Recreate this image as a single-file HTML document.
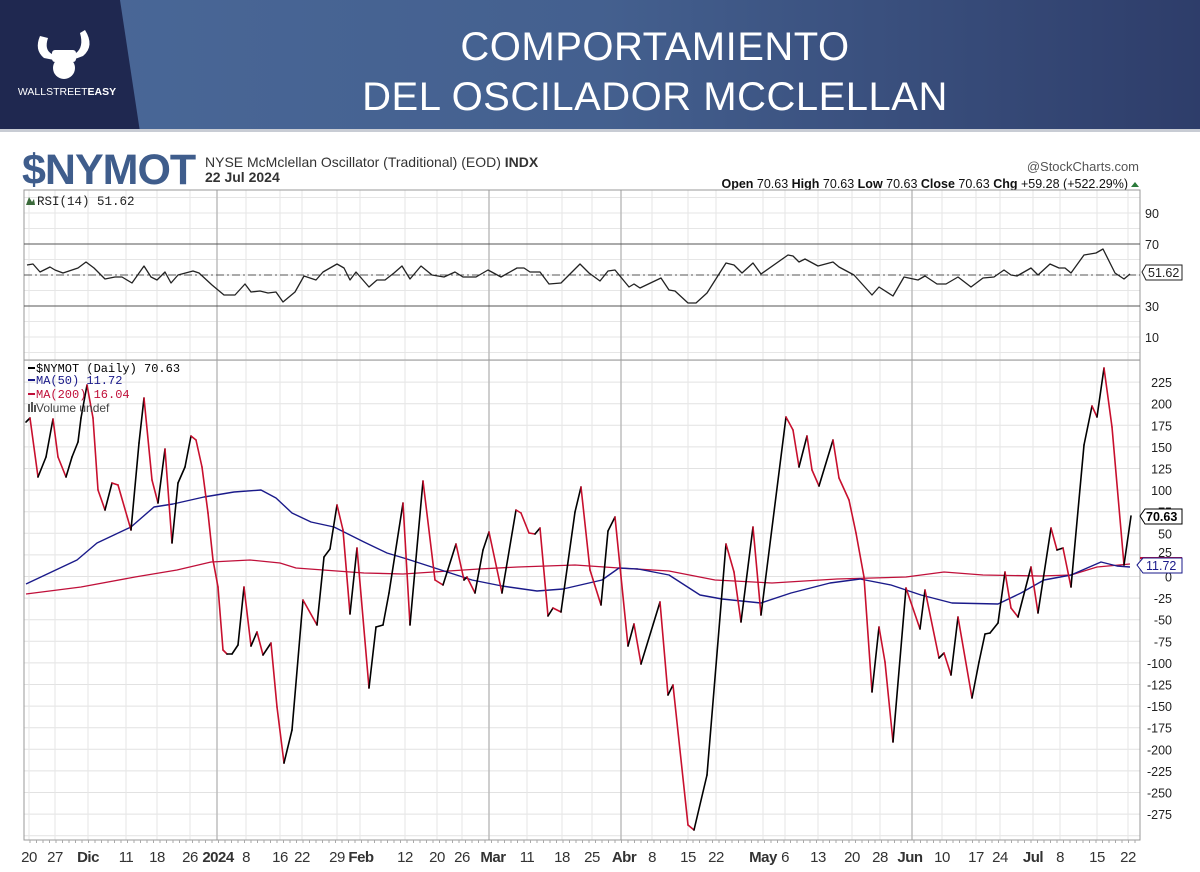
<!DOCTYPE html>
<html><head><meta charset="utf-8">
<style>
html,body{margin:0;padding:0;background:#fff;}
body{width:1200px;height:872px;overflow:hidden;position:relative;font-family:"Liberation Sans",sans-serif;}
#banner{position:absolute;left:0;top:0;width:1200px;height:132px;background:linear-gradient(90deg,#4a6898 0%,#44608f 50%,#2e3d6a 100%);}
#title{position:absolute;left:300px;width:710px;top:22px;text-align:center;color:#fff;font-size:40px;line-height:50px;letter-spacing:0.5px;}
</style></head><body>
<div id="banner">
<svg width="1200" height="132" style="position:absolute;left:0;top:0">
<polygon points="0,0 120,0 140,132 0,132" fill="#1f2850"/>
<rect x="0" y="129" width="1200" height="3" fill="#c8ccd4"/>
<g fill="#fff">
<path d="M40,36 q-6,14 4,22 l10,2 l-2,-6 q-8,-4 -4,-16z"/>
<path d="M85,30 q10,16 -2,26 l-8,3 l1,-6 q8,-6 4,-20z"/>
<rect x="52" y="50" width="24" height="12" rx="3"/>
<circle cx="64" cy="68" r="11"/>
</g>
<text x="67" y="95" fill="#fff" font-size="10.5" text-anchor="middle" font-family="Liberation Sans">WALLSTREET<tspan font-weight="bold">EASY</tspan></text>
</svg>
<div id="title">COMPORTAMIENTO<br>DEL OSCILADOR MCCLELLAN</div>
</div>
<svg id="ch" width="1200" height="740" style="position:absolute;left:0;top:132px" font-family="Liberation Sans"></svg>
<script>
const S=document.getElementById('ch');let h='';
const T=v=>v-132;
h+=`<text x="22" y="${T(184)}" font-size="43" font-weight="bold" fill="#3f5d8c" letter-spacing="-1">$NYMOT</text>`;
h+=`<text x="205" y="${T(167)}" font-size="14" fill="#333">NYSE McMclellan Oscillator (Traditional) (EOD) <tspan font-weight="bold">INDX</tspan></text>`;
h+=`<text x="205" y="${T(182)}" font-size="14" font-weight="bold" fill="#333">22 Jul 2024</text>`;
h+=`<text x="1139" y="${T(171)}" font-size="13" fill="#555" text-anchor="end">@StockCharts.com</text>`;
h+=`<text x="1128" y="${T(188)}" font-size="12.5" fill="#111" text-anchor="end"><tspan font-weight="bold">Open</tspan> 70.63  <tspan font-weight="bold">High</tspan> 70.63  <tspan font-weight="bold">Low</tspan> 70.63  <tspan font-weight="bold">Close</tspan> 70.63  <tspan font-weight="bold">Chg</tspan> +59.28 (+522.29%)</text>`;
h+=`<polygon points="1131,${T(187)} 1139,${T(187)} 1135,${T(182)}" fill="#2a7a3a"/>`;
const L=24,R=1140;
const xs=[29,55,88,126,157,190,217,246,280,302,337,360,405,437,462,489,527,562,592,621,652,688,716,763,785,818,852,880,912,942,976,1000,1033,1060,1097,1128];
const dark=[217,489,621,912];
const ry=v=>275-(v-50)*1.55, my=v=>576.5-v*0.864;
for(let v=0;v<=100;v+=10){const y=ry(v);if(y>190&&y<360)h+=`<line x1="${L}" x2="${R}" y1="${T(y)}" y2="${T(y)}" stroke="#e6e6e6"/>`;}
for(let v=-300;v<=250;v+=25){const y=my(v);if(y>360&&y<840)h+=`<line x1="${L}" x2="${R}" y1="${T(y)}" y2="${T(y)}" stroke="#e2e2e2"/>`;}
xs.forEach(x=>{const d=dark.includes(x);h+=`<line x1="${x}" x2="${x}" y1="${T(190)}" y2="${T(840)}" stroke="${d?'#bdbdbd':'#e6e6e6'}" stroke-width="${d?1.5:1}"/>`;});
h+=`<rect x="${L}" y="${T(190)}" width="${R-L}" height="650" fill="none" stroke="#999"/>`;
h+=`<line x1="${L}" x2="${R}" y1="${T(360)}" y2="${T(360)}" stroke="#999"/>`;
[70,30].forEach(v=>h+=`<line x1="${L}" x2="${R}" y1="${T(ry(v))}" y2="${T(ry(v))}" stroke="#555"/>`);
h+=`<line x1="${L}" x2="${R}" y1="${T(ry(50))}" y2="${T(ry(50))}" stroke="#555" stroke-dasharray="8,3,2,3"/>`;
[90,70,30,10].forEach(v=>h+=`<text x="1145" y="${T(ry(v)+5)}" font-size="12.5" fill="#222">${v}</text>`);
h+=`<polygon points="1142,${T(272)} 1146,${T(265)} 1182,${T(265)} 1182,${T(280)} 1146,${T(280)}" fill="#fff" stroke="#222"/><text x="1148" y="${T(277)}" font-size="12.5" fill="#222">51.62</text>`;
for(let v=-275;v<=225;v+=25){if(v==25)continue;h+=`<text x="1172" y="${T(my(v)+5)}" font-size="12.5" fill="#222" text-anchor="end">${v}</text>`;}
h+=`<text x="1172" y="${T(my(25)+2)}" font-size="12.5" fill="#222" text-anchor="end">25</text>`;
const rsi=[[27,265],[33,264],[40,272],[50,267],[55,270],[63,273],[78,268],[86,262],[94,268],[105,279],[115,277],[122,277],[132,283],[144,266],[151,277],[157,280],[165,272],[171,283],[178,275],[193,271],[199,273],[212,285],[224,295],[235,295],[245,284],[251,292],[260,291],[268,293],[276,292],[283,302],[295,292],[304,276],[316,280],[323,272],[337,264],[344,268],[350,280],[356,272],[369,287],[377,280],[385,280],[394,273],[402,266],[410,279],[421,266],[432,275],[444,277],[455,272],[463,277],[476,277],[488,270],[501,277],[517,268],[524,268],[530,272],[540,272],[549,284],[561,283],[580,264],[589,273],[600,281],[608,271],[615,270],[629,287],[634,284],[640,288],[661,278],[669,290],[675,291],[688,303],[696,303],[707,293],[726,263],[734,265],[742,273],[753,263],[761,274],[788,255],[793,256],[799,262],[805,259],[818,266],[833,262],[839,267],[854,275],[872,295],[879,287],[893,296],[904,277],[918,280],[925,276],[937,284],[946,284],[958,277],[971,287],[983,278],[994,277],[1004,270],[1011,275],[1017,276],[1031,268],[1038,275],[1050,264],[1059,268],[1065,268],[1071,273],[1084,255],[1096,253],[1103,249],[1115,273],[1124,279],[1130,274]];
const pl=(a,c,w)=>`<polyline fill="none" stroke="${c}" stroke-width="${w}" stroke-linejoin="round" points="${a.map(p=>p[0]+','+T(p[1])).join(' ')}"/>`;
h+=pl(rsi,'#222',1.3);
h+=`<text x="37" y="${T(205)}" font-size="12.5" fill="#222" font-family="Liberation Mono">RSI(14) 51.62</text><path d="M26,${T(205)} l3,-8 l3,5 l2,-3 l1,6z" fill="#3a6a3a"/>`;
const ma50=[[26,584],[77,560],[97,543],[131,527],[154,507],[173,504],[204,497],[234,492],[261,490],[276,498],[292,513],[311,522],[334,527],[364,542],[387,553],[407,559],[441,570],[472,580],[502,586],[537,591],[563,589],[602,580],[619,568],[638,569],[669,575],[700,595],[722,599],[761,603],[791,593],[830,583],[860,579],[891,585],[921,595],[952,603],[998,604],[1021,593],[1044,580],[1071,575],[1101,562],[1117,566],[1130,567]];
const ma200=[[26,594],[81,587],[135,577],[177,570],[211,562],[250,560],[280,563],[296,568],[364,573],[403,574],[479,569],[518,567],[575,565],[619,568],[669,571],[715,580],[772,583],[837,579],[906,577],[944,572],[983,575],[1040,576],[1071,575],[1097,567],[1130,564]];
h+=pl(ma200,'#c0103a',1.3);h+=pl(ma50,'#1a1a8a',1.4);
const o=[[26,422],[30,418],[38,477],[46,457],[53,419],[58,457],[66,477],[72,457],[78,442],[81,418],[87,385],[93,418],[98,490],[105,510],[112,483],[118,485],[131,530],[139,443],[144,398],[152,480],[158,503],[165,449],[172,543],[178,483],[185,467],[191,436],[196,440],[202,467],[208,513],[213,560],[218,587],[223,650],[227,654],[232,654],[238,645],[244,587],[251,646],[257,632],[263,655],[271,643],[277,707],[284,763],[292,730],[303,600],[317,625],[324,557],[330,549],[337,505],[343,530],[350,614],[357,548],[369,688],[376,627],[383,625],[389,593],[403,503],[410,625],[423,481],[435,580],[443,585],[456,544],[464,580],[467,577],[475,593],[483,550],[489,532],[502,593],[516,510],[521,513],[529,533],[535,534],[540,528],[548,616],[553,608],[561,612],[575,512],[581,487],[590,570],[601,605],[608,531],[615,517],[628,646],[634,624],[641,664],[660,602],[668,695],[673,685],[688,825],[694,830],[707,775],[726,544],[734,572],[741,622],[753,527],[761,615],[786,417],[793,430],[799,467],[807,436],[812,470],[819,486],[833,440],[839,478],[849,500],[856,533],[864,577],[872,692],[879,627],[885,662],[893,742],[906,588],[920,629],[925,590],[939,658],[944,653],[951,675],[958,617],[972,698],[979,662],[985,634],[990,633],[998,623],[1005,572],[1011,608],[1018,617],[1031,567],[1038,613],[1051,528],[1057,550],[1063,548],[1071,587],[1084,445],[1092,406],[1097,417],[1104,368],[1112,427],[1124,565],[1131,516]];
for(let i=1;i<o.length;i++){const a=o[i-1],b=o[i];h+=`<line x1="${a[0]}" y1="${T(a[1])}" x2="${b[0]}" y2="${T(b[1])}" stroke="${b[1]>a[1]?'#c8102e':'#000'}" stroke-width="1.6" stroke-linecap="round"/>`;}
const lg=[['#000','$NYMOT (Daily) 70.63',372],['#1a1a8a','MA(50) 11.72',384],['#c0103a','MA(200) 16.04',398]];
lg.forEach(g=>{h+=`<line x1="28" x2="35" y1="${T(g[2]-4)}" y2="${T(g[2]-4)}" stroke="${g[0]}" stroke-width="2"/><text x="36" y="${T(g[2])}" font-size="12" fill="${g[0]}" font-family="Liberation Mono">${g[1]}</text>`;});
h+=`<text x="36" y="${T(412)}" font-size="12" fill="#444">Volume undef</text><rect x="28" y="${T(412)-8}" width="2" height="8" fill="#555"/><rect x="31" y="${T(412)-10}" width="2" height="10" fill="#555"/><rect x="34" y="${T(412)-7}" width="2" height="7" fill="#555"/>`;
h+=`<polygon points="1140,${T(516)} 1145,${T(509)} 1182,${T(509)} 1182,${T(524)} 1145,${T(524)}" fill="#fff" stroke="#000"/><text x="1146" y="${T(521)}" font-size="12.5" font-weight="bold" fill="#000">70.63</text>`;
h+=`<rect x="1140" y="${T(557)}" width="42" height="2" fill="#c0103a"/>`;
h+=`<polygon points="1137,${T(565)} 1143,${T(558)} 1182,${T(558)} 1182,${T(573)} 1143,${T(573)}" fill="#fff" stroke="#1a1a8a"/><text x="1146" y="${T(570)}" font-size="12.5" fill="#1a1a8a">11.72</text>`;
const xl=[[29,'20'],[55,'27'],[88,'Dic',1],[126,'11'],[157,'18'],[190,'26'],[218,'2024',1],[246,'8'],[280,'16'],[302,'22'],[337,'29'],[361,'Feb',1],[405,'12'],[437,'20'],[462,'26'],[493,'Mar',1],[527,'11'],[562,'18'],[592,'25'],[624,'Abr',1],[652,'8'],[688,'15'],[716,'22'],[763,'May',1],[785,'6'],[818,'13'],[852,'20'],[880,'28'],[910,'Jun',1],[942,'10'],[976,'17'],[1000,'24'],[1033,'Jul',1],[1060,'8'],[1097,'15'],[1128,'22']];
xl.forEach(l=>h+=`<text x="${l[0]}" y="${T(862)}" font-size="15" fill="#333" text-anchor="middle" ${l[2]?'font-weight="bold"':''} letter-spacing="-0.5">${l[1]}</text>`);
for(let x=30;x<1140;x+=6.5)h+=`<line x1="${x}" x2="${x}" y1="${T(840)}" y2="${T(843)}" stroke="#aaa"/>`;
S.innerHTML=h;
</script>
</body></html>
